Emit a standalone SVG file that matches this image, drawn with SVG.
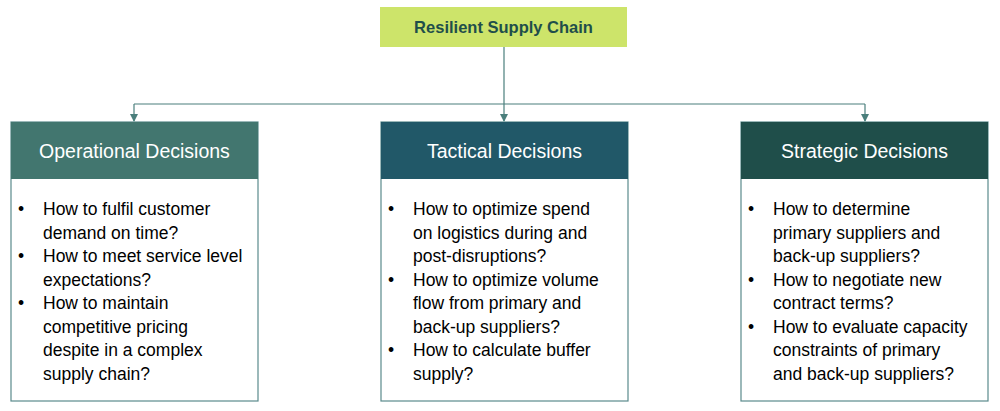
<svg xmlns="http://www.w3.org/2000/svg" width="1000" height="411" viewBox="0 0 1000 411">
<defs>
<marker id="ah" markerWidth="8" markerHeight="8" refX="7" refY="4" orient="auto" markerUnits="userSpaceOnUse"><path d="M0,0 L8,4 L0,8 z" fill="#4a7f7c"/></marker>
<style>
.hd{font-family:"Liberation Sans",Arial,sans-serif;font-size:19.5px;fill:#fff;text-anchor:middle}
.tx{font-family:"Liberation Sans",Arial,sans-serif;font-size:17.5px;fill:#000}
.body{fill:#fff;stroke:#5a8a8c;stroke-width:1.2}
.cn{fill:none;stroke:#4a7f7c;stroke-width:1.2}
</style>
</defs>
<rect width="1000" height="411" fill="#fff"/>
<g id="root"><rect x="380" y="7" width="247" height="40" fill="#cde46a"/>
<text x="503.5" y="33" font-family="Liberation Sans,Arial,sans-serif" font-size="16.5" font-weight="bold" fill="#1f4e4a" text-anchor="middle">Resilient Supply Chain</text></g>
<g id="connectors">
<path class="cn" d="M504,47 V104"/>
<path class="cn" d="M134,104 H865"/>
<path class="cn" d="M134,104 V121" marker-end="url(#ah)"/>
<path class="cn" d="M504,104 V121" marker-end="url(#ah)"/>
<path class="cn" d="M865,104 V121" marker-end="url(#ah)"/>
</g>
<g id="operational">
<rect class="body" x="11" y="122" width="247" height="279"/>
<rect x="11" y="122" width="247" height="57" fill="#42766f"/>
<text class="hd" x="134.5" y="158">Operational Decisions</text>
<text class="tx"><tspan x="18" y="215">•</tspan><tspan x="43" y="215">How to fulfil customer</tspan><tspan x="43" y="238.5">demand on time?</tspan><tspan x="18" y="262">•</tspan><tspan x="43" y="262">How to meet service level</tspan><tspan x="43" y="285.5">expectations?</tspan><tspan x="18" y="309">•</tspan><tspan x="43" y="309">How to maintain</tspan><tspan x="43" y="332.5">competitive pricing</tspan><tspan x="43" y="356">despite in a complex</tspan><tspan x="43" y="379.5">supply chain?</tspan></text>
</g>
<g id="tactical">
<rect class="body" x="381" y="122" width="247" height="279"/>
<rect x="381" y="122" width="247" height="57" fill="#215868"/>
<text class="hd" x="504.5" y="158">Tactical Decisions</text>
<text class="tx"><tspan x="388" y="215">•</tspan><tspan x="413" y="215">How to optimize spend</tspan><tspan x="413" y="238.5">on logistics during and</tspan><tspan x="413" y="262">post-disruptions?</tspan><tspan x="388" y="285.5">•</tspan><tspan x="413" y="285.5">How to optimize volume</tspan><tspan x="413" y="309">flow from primary and</tspan><tspan x="413" y="332.5">back-up suppliers?</tspan><tspan x="388" y="356">•</tspan><tspan x="413" y="356">How to calculate buffer</tspan><tspan x="413" y="379.5">supply?</tspan></text>
</g>
<g id="strategic">
<rect class="body" x="741" y="122" width="247" height="279"/>
<rect x="741" y="122" width="247" height="57" fill="#1f4e4a"/>
<text class="hd" x="864.5" y="158">Strategic Decisions</text>
<text class="tx"><tspan x="748" y="215">•</tspan><tspan x="773" y="215">How to determine</tspan><tspan x="773" y="238.5">primary suppliers and</tspan><tspan x="773" y="262">back-up suppliers?</tspan><tspan x="748" y="285.5">•</tspan><tspan x="773" y="285.5">How to negotiate new</tspan><tspan x="773" y="309">contract terms?</tspan><tspan x="748" y="332.5">•</tspan><tspan x="773" y="332.5">How to evaluate capacity</tspan><tspan x="773" y="356">constraints of primary</tspan><tspan x="773" y="379.5">and back-up suppliers?</tspan></text>
</g>
</svg>
